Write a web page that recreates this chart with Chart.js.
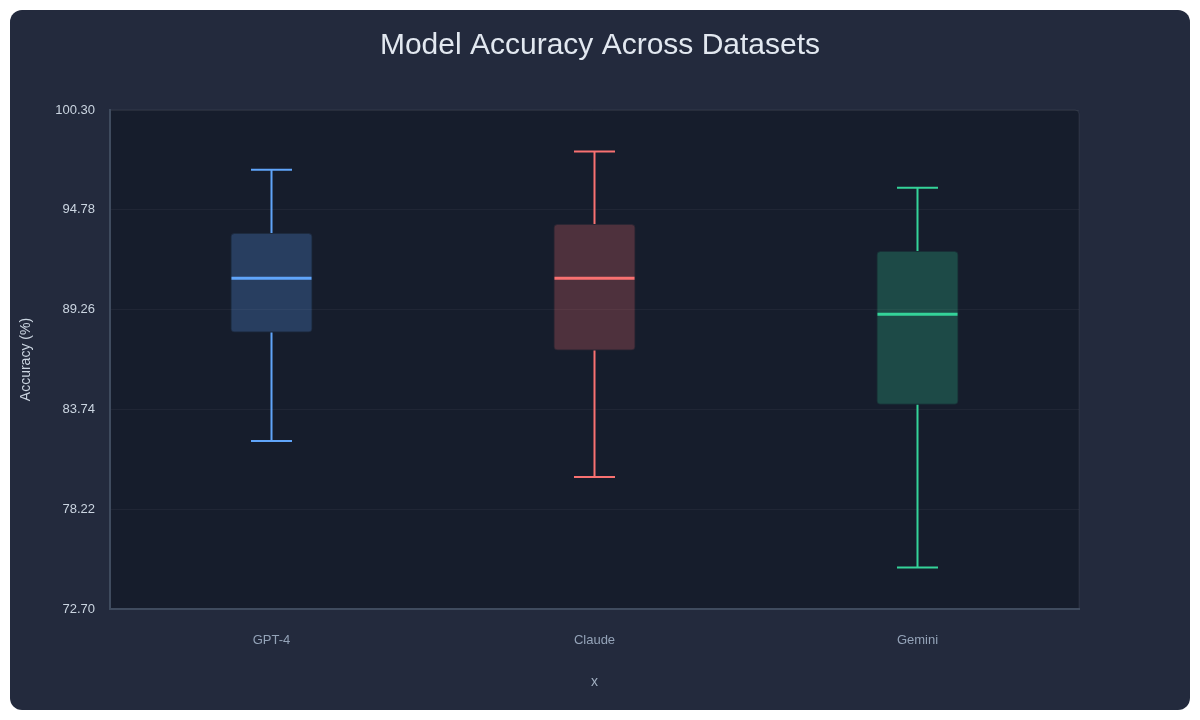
<!DOCTYPE html>
<html>
<head>
<meta charset="utf-8">
<script src="https://cdn.jsdelivr.net/npm/chart.js@4.4.1/dist/chart.umd.min.js"></script>
<style>
html, body { margin: 0; padding: 0; background: #ffffff; }
#card { position: absolute; left: 10px; top: 10px; width: 1180px; height: 700px; background: #232a3d; border-radius: 12px; overflow: hidden; }
</style>
</head>
<body>
<div id="card"><canvas id="chart" width="1180" height="700"></canvas></div>
<script>
// box plot stats per model
var models = ['GPT-4', 'Claude', 'Gemini'];
var minVals = [82, 80, 75];
var q1Vals = [88, 87, 84];
var medianVals = [91, 91, 89];
var q3Vals = [93.5, 94, 92.5];
var maxVals = [97, 98, 96];
var yTicks = [72.70, 78.22, 83.74, 89.26, 94.78, 100.30];
var colors = ['#60a5fa', '#f87171', '#34d399'];

Chart.defaults.font.family = "'Liberation Sans', Arial, sans-serif";

const plotBg = {
    id: 'plotBg',
    beforeDraw(chart) {
        const { ctx, chartArea: a } = chart;
        ctx.save();
        ctx.fillStyle = '#161d2c';
        ctx.beginPath();
        ctx.roundRect(a.left, a.top, a.right - a.left, a.bottom - a.top, [0, 4, 0, 0]);
        ctx.fill();
        ctx.strokeStyle = 'rgba(255,255,255,0.07)';
        ctx.lineWidth = 1;
        ctx.stroke();
        ctx.restore();
    }
};

const whiskers = {
    id: 'whiskers',
    afterDatasetsDraw(chart) {
        const { ctx, scales: { x, y } } = chart;
        const meta = chart.getDatasetMeta(0);
        ctx.save();
        models.forEach((m, i) => {
            const cx = x.getPixelForValue(i);
            const bw = meta.data[i].width;
            const cap = bw / 4;
            ctx.strokeStyle = colors[i];
            ctx.lineWidth = 2;
            ctx.beginPath();
            ctx.moveTo(cx, y.getPixelForValue(q3Vals[i]));
            ctx.lineTo(cx, y.getPixelForValue(maxVals[i]));
            ctx.moveTo(cx, y.getPixelForValue(q1Vals[i]));
            ctx.lineTo(cx, y.getPixelForValue(minVals[i]));
            ctx.moveTo(cx - cap, y.getPixelForValue(maxVals[i]));
            ctx.lineTo(cx + cap, y.getPixelForValue(maxVals[i]));
            ctx.moveTo(cx - cap, y.getPixelForValue(minVals[i]));
            ctx.lineTo(cx + cap, y.getPixelForValue(minVals[i]));
            ctx.stroke();
            ctx.lineWidth = 3;
            ctx.beginPath();
            ctx.moveTo(cx - bw / 2 + 1, y.getPixelForValue(medianVals[i]));
            ctx.lineTo(cx + bw / 2 - 1, y.getPixelForValue(medianVals[i]));
            ctx.stroke();
        });
        ctx.restore();
    }
};

var ctx = document.getElementById('chart').getContext('2d');

var chart = new Chart(ctx, {
    type: 'bar',
    data: {
        labels: models,
        datasets: [{
            data: models.map((m, i) => [q1Vals[i], q3Vals[i]]),
            backgroundColor: colors.map(c => c + '40'),
            borderColor: colors.map(c => c + '1a'),
            borderWidth: 1,
            borderRadius: 4,
            borderSkipped: false,
            barPercentage: 0.254,
            categoryPercentage: 1
        }]
    },
    options: {
        responsive: false,
        animation: false,
        layout: { padding: { left: 0, right: 0, top: 0, bottom: 19 } },
        plugins: {
            legend: { display: false },
            tooltip: { enabled: false },
            title: {
                display: true,
                text: 'Model Accuracy Across Datasets',
                color: '#e2e8f0',
                font: { size: 30, weight: 'normal' },
                padding: { top: 18, bottom: 46 }
            }
        },
        scales: {
            x: {
                grid: { display: false, drawTicks: false },
                border: { color: '#3f4b5e', width: 2 },
                ticks: { color: '#94a3b8', font: { size: 13 }, padding: 24 },
                title: { display: true, text: 'x', color: '#a0aec0', font: { size: 14 }, padding: { top: 1.5, bottom: 0 } }
            },
            y: {
                min: 72.7,
                max: 100.3,
                afterBuildTicks: axis => { axis.ticks = yTicks.map(v => ({ value: v })); },
                afterFit: axis => { axis.width = 100; },
                grid: { color: 'rgba(255,255,255,0.045)', drawTicks: false },
                border: { color: '#3f4b5e', width: 2 },
                ticks: { color: '#cbd5e1', font: { size: 13 }, padding: 15, callback: v => Number(v).toFixed(2) },
                title: { display: true, text: 'Accuracy (%)', color: '#cbd5e1', font: { size: 14 }, padding: { top: 8, bottom: 0 } }
            },
            // empty right axis, only reserves the space to the right of the plot
            yRight: {
                type: 'linear',
                position: 'right',
                display: true,
                grid: { display: false, drawTicks: false },
                border: { display: false },
                ticks: { display: false },
                afterFit: axis => { axis.width = 111; }
            }
        }
    },
    plugins: [plotBg, whiskers]
});
</script>
</body>
</html>
